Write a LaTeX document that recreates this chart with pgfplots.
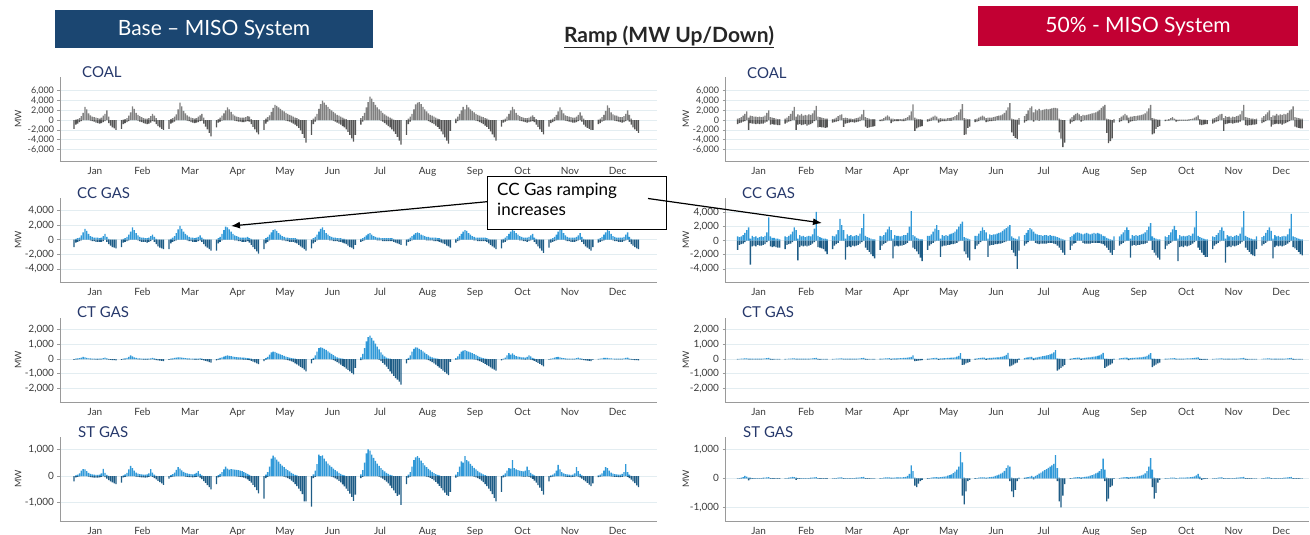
\documentclass[border=0pt]{standalone}
\usepackage{fontspec}
\setmainfont{Lato}
\usepackage{pgfplots}
\pgfplotsset{compat=1.18}
\usepackage{pgfplotstable}
\usetikzlibrary{arrows.meta}

\definecolor{coalup}{HTML}{808080}
\definecolor{coaldn}{HTML}{555555}
\definecolor{gasup}{HTML}{3199D8}
\definecolor{gasdn}{HTML}{1E5C86}
\definecolor{gridc}{HTML}{E3EDF1}
\definecolor{axisc}{HTML}{9A9A9A}
\definecolor{tickc}{HTML}{3A3A3A}
\definecolor{navy}{HTML}{26386B}
\definecolor{basebox}{HTML}{1B4671}
\definecolor{redbox}{HTML}{C20033}

% hourly ramp per month (24 rows per month), u = up, d = down, MW
% Base - COAL
\pgfplotstableread[row sep=\\]{
u d\\
0 -1800\\100 -900\\200 -700\\400 -400\\800 -200\\1500 0\\2700 0\\2200 0\\1400 0\\1000 -100\\700 -200\\600 -300\\500 -500\\400 -600\\300 -700\\500 -600\\900 -400\\1300 -200\\2000 0\\700 -600\\0 -1100\\0 -1500\\0 -1700\\0 -2000\\
0 -1800\\100 -800\\200 -600\\400 -400\\900 -200\\1600 0\\2800 0\\2300 0\\1500 0\\1100 -100\\800 -300\\600 -400\\400 -600\\300 -700\\300 -800\\400 -700\\800 -500\\1300 -200\\900 -300\\400 -800\\0 -1200\\0 -1500\\0 -1800\\0 -2000\\
0 -1800\\200 -700\\400 -500\\700 -300\\1200 0\\2200 0\\3600 0\\2800 0\\1900 0\\1400 0\\1000 -100\\700 -200\\500 -400\\400 -500\\300 -600\\400 -500\\700 -400\\1000 -200\\1300 -100\\500 -700\\0 -1300\\0 -1900\\0 -2600\\0 -3300\\
0 -1500\\200 -500\\500 -300\\900 -100\\1400 0\\2000 0\\2600 0\\2200 0\\1700 0\\1200 0\\900 -100\\700 -200\\600 -300\\500 -300\\500 -400\\500 -400\\600 -300\\800 -200\\700 -300\\200 -800\\0 -1400\\0 -1900\\0 -2500\\0 -2900\\
0 -2000\\300 -700\\600 -300\\1000 0\\1700 0\\2500 0\\3100 0\\2900 0\\2600 0\\2300 0\\2000 0\\1800 0\\1500 -100\\1300 -200\\1100 -300\\900 -500\\700 -700\\500 -900\\400 -1200\\200 -1600\\0 -2100\\0 -2800\\0 -3600\\0 -4600\\
0 -3000\\300 -800\\700 -300\\1300 0\\2300 0\\3300 0\\4000 0\\3600 0\\3100 0\\2700 0\\2300 0\\2000 0\\1700 -100\\1400 -300\\1100 -500\\900 -700\\700 -900\\500 -1200\\300 -1500\\200 -1900\\0 -2400\\0 -3000\\0 -3700\\0 -4400\\
0 -3000\\400 -900\\800 -300\\1500 0\\2600 0\\3700 0\\4800 0\\4400 0\\3700 0\\3100 0\\2600 0\\2200 0\\1900 -100\\1500 -300\\1200 -600\\900 -900\\700 -1200\\500 -1500\\300 -1900\\100 -2300\\0 -2800\\0 -3400\\0 -4200\\0 -5000\\
0 -3000\\300 -800\\700 -300\\1300 0\\2200 0\\3200 0\\3600 0\\3700 0\\3300 0\\2700 0\\2200 0\\1800 0\\1400 -200\\1100 -400\\900 -600\\700 -800\\500 -1100\\300 -1400\\200 -1800\\0 -2300\\0 -2900\\0 -3500\\0 -4200\\0 -4800\\
0 -2200\\300 -600\\700 -200\\1300 0\\2000 0\\2700 0\\2200 0\\3100 0\\2600 0\\2200 0\\1900 0\\1600 0\\1300 -100\\1100 -200\\900 -400\\700 -600\\600 -800\\400 -1100\\300 -1400\\100 -1800\\0 -2300\\0 -2900\\0 -3500\\0 -4200\\
0 -1300\\100 -500\\300 -300\\700 -100\\1300 0\\2000 0\\2700 0\\2200 0\\1500 0\\1100 0\\800 -100\\600 -200\\500 -300\\400 -400\\400 -500\\500 -400\\700 -300\\1000 -200\\600 -400\\200 -900\\0 -1400\\0 -1900\\0 -2400\\0 -2900\\
0 -1300\\100 -600\\300 -400\\600 -200\\1100 0\\1800 0\\2600 0\\2100 0\\1400 0\\1000 -100\\800 -200\\700 -300\\600 -400\\500 -500\\500 -500\\700 -400\\1100 -200\\1600 0\\900 -300\\300 -900\\0 -1300\\0 -1600\\0 -1800\\0 -2000\\
0 -2000\\100 -800\\300 -600\\600 -300\\1100 -100\\1900 0\\3000 0\\2500 0\\1600 0\\1200 0\\1000 -100\\900 -200\\700 -300\\600 -400\\600 -500\\800 -400\\1300 -200\\2000 0\\1100 -300\\300 -900\\0 -1500\\0 -1900\\0 -2200\\0 -2600\\
}\coalA
% 50% - COAL
\pgfplotstableread[row sep=\\]{
u d\\
300 -800\\400 -600\\600 -500\\900 -300\\1300 -200\\1800 0\\500 -2000\\900 -600\\800 -700\\700 -700\\700 -800\\600 -700\\700 -800\\600 -700\\700 -700\\900 -500\\1500 -300\\2000 0\\600 -900\\500 -800\\400 -900\\300 -900\\200 -1000\\200 -1000\\
300 -700\\500 -500\\800 -300\\1300 -200\\1900 0\\2700 0\\700 -2000\\1200 -900\\1000 -800\\1300 -1000\\900 -900\\1100 -800\\1000 -1100\\1200 -900\\1100 -800\\1400 -600\\2000 -200\\2900 0\\700 -1500\\600 -1400\\500 -1500\\400 -1500\\300 -1600\\300 -1500\\
200 -500\\300 -400\\500 -300\\800 -200\\1100 0\\1200 0\\400 -1400\\500 -700\\400 -600\\300 -500\\300 -400\\200 -400\\300 -500\\400 -400\\500 -300\\700 -200\\1200 0\\2100 0\\600 -1300\\400 -1600\\300 -1500\\200 -1400\\200 -1300\\200 -1200\\
100 -200\\200 -200\\400 -100\\700 0\\1000 0\\700 0\\300 -600\\300 -300\\200 -200\\200 -200\\200 -200\\200 -100\\200 -200\\300 -200\\400 -100\\600 0\\1000 0\\1800 0\\3200 0\\500 -2200\\300 -1700\\200 -1500\\200 -1300\\100 -1200\\
200 -300\\300 -200\\500 -100\\700 0\\900 0\\700 0\\300 -500\\400 -300\\300 -200\\300 -200\\300 -200\\400 -100\\400 -100\\500 -100\\600 0\\800 0\\1100 0\\1600 0\\2200 0\\3300 0\\400 -3000\\300 -2900\\200 -1600\\200 -1300\\
200 -400\\300 -300\\500 -200\\700 0\\900 0\\700 0\\400 -400\\500 -300\\500 -200\\500 -200\\600 -100\\700 -100\\800 0\\900 0\\1000 0\\1200 0\\1500 0\\2000 0\\2600 0\\3500 0\\300 -2500\\200 -3200\\100 -3600\\100 -3900\\
400 -900\\800 -500\\1300 -200\\2000 0\\2500 0\\2800 0\\1600 -300\\2200 0\\2000 0\\2300 -100\\2000 0\\2100 0\\2200 0\\2300 0\\2200 0\\2300 0\\2400 0\\2500 0\\2500 0\\2400 0\\300 -2500\\100 -3800\\0 -5500\\0 -4600\\
300 -700\\600 -400\\1000 -200\\1300 0\\1500 0\\1200 0\\800 -300\\1100 -100\\1000 0\\1100 0\\1200 0\\1300 0\\1400 0\\1500 0\\1600 0\\1800 0\\2100 0\\2500 0\\2800 0\\3100 0\\300 -2600\\200 -4700\\100 -4300\\0 -3700\\
200 -500\\400 -400\\700 -200\\1000 0\\1300 0\\1000 0\\500 -600\\700 -300\\700 -200\\800 -100\\800 -100\\900 0\\1000 0\\1100 0\\1200 0\\1400 0\\1800 0\\2400 0\\3100 0\\400 -2900\\300 -2700\\200 -1800\\100 -1400\\100 -1200\\
100 -200\\100 -100\\200 -100\\400 0\\600 0\\300 0\\100 -300\\100 -200\\100 -100\\100 -100\\100 -100\\100 -100\\100 -100\\200 -100\\200 0\\300 0\\500 0\\700 0\\1000 0\\200 -900\\100 -1000\\100 -900\\100 -800\\0 -800\\
300 -700\\400 -500\\600 -300\\900 -200\\1200 0\\1300 0\\400 -2200\\800 -800\\600 -700\\700 -600\\500 -600\\700 -700\\600 -600\\800 -500\\900 -500\\1200 -300\\1900 0\\3100 0\\600 -1000\\500 -1100\\400 -1000\\300 -1000\\300 -900\\200 -900\\
300 -800\\500 -600\\800 -400\\1200 -200\\1600 0\\2000 0\\600 -1300\\1000 -900\\900 -800\\1300 -700\\1000 -800\\1200 -700\\1100 -900\\1300 -700\\1200 -600\\1500 -400\\2000 -200\\2200 0\\2800 0\\600 -1300\\500 -1500\\400 -1600\\300 -1700\\300 -1700\\
}\coalB
% Base - CC GAS
\pgfplotstableread[row sep=\\]{
u d\\
0 -1000\\100 -400\\200 -300\\300 -200\\600 -100\\1000 0\\1500 0\\1200 0\\800 0\\500 -100\\400 -200\\300 -200\\300 -300\\300 -300\\200 -300\\300 -300\\500 -200\\800 0\\400 -300\\100 -600\\0 -800\\0 -1000\\0 -1100\\0 -1200\\
0 -1000\\100 -400\\200 -300\\400 -200\\700 -100\\1100 0\\1700 0\\1300 0\\900 0\\600 -100\\400 -200\\300 -300\\300 -300\\200 -300\\200 -400\\300 -300\\500 -200\\700 0\\400 -300\\100 -600\\0 -900\\0 -1100\\0 -1200\\0 -1300\\
0 -1300\\100 -500\\300 -300\\500 -200\\900 -100\\1400 0\\1900 0\\1500 0\\1100 0\\800 0\\600 -100\\400 -200\\300 -200\\300 -300\\200 -300\\300 -300\\400 -200\\600 -100\\300 -300\\100 -600\\0 -900\\0 -1100\\0 -1300\\0 -1500\\
0 -1500\\200 -500\\400 -300\\800 -100\\1300 0\\1800 0\\1700 0\\1400 0\\1100 0\\800 0\\600 -100\\500 -100\\400 -200\\300 -200\\300 -300\\300 -300\\300 -300\\400 -200\\200 -400\\100 -700\\0 -1000\\0 -1300\\0 -1600\\0 -1900\\
0 -1300\\200 -500\\400 -300\\700 -100\\1000 0\\1300 0\\1400 0\\1200 0\\900 0\\700 0\\500 -100\\400 -100\\300 -200\\300 -200\\200 -300\\200 -300\\200 -300\\200 -400\\100 -500\\0 -700\\0 -900\\0 -1100\\0 -1300\\0 -1500\\
0 -1200\\200 -500\\400 -300\\700 -100\\1100 0\\1500 0\\1700 0\\1300 0\\900 0\\700 0\\500 -100\\400 -100\\300 -200\\300 -200\\200 -200\\200 -300\\200 -300\\100 -400\\100 -500\\0 -600\\0 -800\\0 -1000\\0 -1100\\0 -1300\\
0 -700\\100 -300\\200 -200\\400 -100\\600 0\\800 0\\900 0\\700 0\\500 0\\400 0\\300 -100\\300 -100\\200 -100\\200 -200\\200 -200\\200 -200\\200 -200\\200 -200\\200 -200\\100 -300\\0 -400\\0 -500\\0 -600\\0 -700\\
0 -800\\100 -300\\300 -200\\500 -100\\700 0\\900 0\\1000 0\\900 0\\700 0\\600 0\\500 0\\400 -100\\400 -100\\300 -100\\300 -100\\300 -200\\300 -200\\200 -200\\200 -300\\100 -400\\0 -500\\0 -600\\0 -800\\0 -900\\
0 -1100\\100 -400\\300 -200\\500 -100\\800 0\\1100 0\\1300 0\\1200 0\\900 0\\700 0\\500 0\\400 -100\\300 -100\\300 -200\\300 -200\\300 -200\\300 -200\\300 -200\\200 -300\\100 -500\\0 -700\\0 -900\\0 -1100\\0 -1300\\
0 -1200\\100 -400\\300 -300\\500 -100\\800 0\\1100 0\\1500 0\\1200 0\\900 0\\700 0\\500 -100\\400 -100\\300 -200\\300 -200\\300 -300\\400 -200\\600 -100\\800 0\\300 -300\\100 -600\\0 -900\\0 -1200\\0 -1500\\0 -1800\\
0 -1100\\100 -400\\200 -300\\400 -200\\700 -100\\1100 0\\1600 0\\1300 0\\900 0\\600 -100\\400 -200\\300 -200\\300 -300\\300 -300\\300 -300\\400 -200\\600 -100\\900 0\\400 -300\\100 -600\\0 -900\\0 -1100\\0 -1300\\0 -1500\\
0 -1000\\100 -400\\200 -300\\400 -200\\700 -100\\1000 0\\1500 0\\1200 0\\800 0\\500 -100\\400 -200\\300 -200\\300 -300\\300 -300\\300 -300\\400 -200\\700 -100\\1000 0\\400 -300\\100 -600\\0 -800\\0 -1000\\0 -1200\\0 -1300\\
}\ccA
% 50% - CC GAS
\pgfplotstableread[row sep=\\]{
u d\\
600 -1300\\500 -600\\600 -500\\800 -400\\1100 -200\\1500 0\\1900 0\\300 -3400\\700 -800\\500 -700\\600 -800\\400 -600\\500 -700\\600 -700\\500 -600\\700 -500\\1200 -200\\3300 0\\600 -800\\400 -900\\400 -800\\300 -900\\300 -1000\\200 -1000\\
600 -1200\\500 -600\\700 -500\\900 -400\\1300 -200\\1900 0\\1500 0\\300 -2800\\800 -900\\600 -700\\700 -800\\500 -700\\600 -800\\700 -700\\600 -600\\900 -400\\1700 -200\\4100 0\\700 -900\\500 -1000\\400 -1100\\300 -1200\\300 -1500\\200 -1900\\
700 -1200\\600 -700\\900 -500\\1500 -300\\3100 0\\2200 0\\1500 0\\300 -2700\\900 -900\\700 -800\\800 -900\\600 -700\\700 -800\\800 -700\\700 -600\\1000 -400\\1800 -200\\3800 0\\700 -1000\\500 -1300\\400 -1600\\300 -1900\\200 -2200\\200 -2500\\
700 -1300\\600 -700\\800 -500\\1200 -300\\1600 -100\\2000 0\\1500 0\\300 -2500\\800 -800\\700 -700\\700 -800\\600 -700\\700 -700\\800 -600\\800 -500\\1100 -300\\2000 0\\4200 0\\800 -1000\\600 -1200\\400 -1500\\300 -1900\\200 -2400\\200 -2900\\
700 -1300\\700 -700\\900 -500\\1300 -300\\1700 -100\\2200 0\\1500 0\\300 -2300\\800 -800\\700 -700\\800 -700\\700 -600\\900 -600\\1000 -500\\1100 -500\\1300 -400\\1600 -300\\2000 -100\\2400 0\\2700 0\\500 -1500\\400 -1900\\300 -2400\\200 -2800\\
700 -1200\\700 -700\\1000 -500\\1400 -200\\1900 0\\1500 0\\1200 0\\300 -2300\\900 -700\\800 -600\\900 -600\\900 -500\\1000 -500\\1100 -400\\1200 -400\\1400 -300\\1600 -200\\1800 -100\\2000 0\\2200 0\\600 -1300\\400 -1700\\300 -2200\\200 -4000\\
600 -1400\\800 -700\\1100 -400\\1500 -200\\1800 0\\1600 0\\1300 0\\1000 -300\\900 -400\\800 -500\\800 -400\\700 -400\\800 -400\\800 -400\\700 -300\\800 -300\\700 -300\\700 -400\\600 -500\\500 -700\\400 -1000\\300 -1300\\200 -1700\\100 -2000\\
500 -1300\\700 -700\\900 -400\\1100 -300\\1200 0\\1100 0\\1000 0\\900 -300\\1000 -400\\1100 -400\\1000 -400\\900 -400\\1000 -300\\1100 -300\\1000 -300\\1100 -300\\1000 -300\\900 -400\\700 -500\\600 -700\\400 -1000\\300 -1300\\200 -1700\\100 -2000\\
600 -1300\\600 -700\\900 -500\\1200 -300\\1500 -100\\1900 0\\1500 0\\300 -2400\\800 -700\\700 -600\\800 -700\\700 -600\\800 -600\\900 -500\\1000 -500\\1200 -400\\1500 -300\\2000 0\\2500 0\\600 -1300\\400 -1700\\300 -2100\\200 -2400\\200 -2700\\
600 -1200\\500 -700\\800 -500\\1200 -300\\1600 -100\\2100 0\\1500 0\\300 -2900\\800 -900\\600 -800\\700 -900\\600 -700\\700 -800\\800 -700\\700 -600\\1000 -400\\1900 -200\\4200 0\\700 -1000\\500 -1300\\400 -1700\\300 -2000\\200 -2300\\200 -2300\\
600 -1200\\500 -700\\800 -500\\1100 -300\\1500 -100\\1900 0\\1400 0\\300 -3100\\800 -900\\600 -800\\700 -900\\500 -700\\700 -800\\800 -700\\700 -600\\1000 -400\\1900 -200\\4200 0\\700 -1000\\500 -1300\\400 -1600\\300 -1900\\200 -2100\\200 -2200\\
600 -1200\\500 -700\\700 -500\\1100 -300\\1500 -100\\1900 0\\1400 0\\300 -2500\\800 -900\\600 -700\\700 -800\\500 -700\\600 -800\\700 -700\\600 -600\\900 -400\\1700 -200\\3800 0\\600 -900\\500 -1100\\400 -1300\\300 -1600\\200 -1900\\200 -2100\\
}\ccB
% Base - CT GAS
\pgfplotstableread[row sep=\\]{
u d\\
0 -60\\20 -30\\40 -20\\60 -10\\100 0\\150 0\\120 0\\80 0\\50 -10\\40 -20\\30 -30\\20 -30\\20 -40\\20 -40\\20 -30\\30 -20\\60 -10\\90 0\\40 -30\\10 -50\\0 -60\\0 -70\\0 -80\\0 -90\\
0 -60\\20 -30\\40 -20\\80 -10\\150 0\\250 0\\180 0\\110 0\\70 -10\\50 -20\\40 -30\\30 -30\\30 -40\\20 -40\\20 -40\\30 -30\\50 -20\\80 0\\40 -40\\10 -70\\0 -90\\0 -110\\0 -130\\0 -150\\
0 -60\\20 -30\\40 -20\\70 -10\\100 0\\120 0\\110 0\\90 0\\70 0\\60 -10\\50 -20\\40 -20\\30 -30\\30 -30\\20 -40\\20 -40\\30 -40\\40 -30\\20 -60\\0 -90\\0 -120\\0 -160\\0 -210\\0 -250\\
0 -100\\30 -40\\70 -20\\120 0\\170 0\\220 0\\250 0\\220 0\\190 0\\170 0\\150 -10\\130 -20\\120 -20\\110 -30\\100 -30\\90 -40\\80 -50\\60 -60\\40 -80\\20 -120\\0 -170\\0 -230\\0 -300\\0 -350\\
0 -150\\60 -40\\150 -10\\300 0\\450 0\\500 0\\480 0\\420 0\\370 0\\320 0\\270 0\\220 -20\\170 -40\\130 -70\\90 -110\\60 -160\\40 -220\\20 -290\\0 -370\\0 -450\\0 -540\\0 -630\\0 -730\\0 -850\\
0 -300\\80 -60\\250 -10\\500 0\\750 0\\800 0\\760 0\\700 0\\620 0\\530 0\\440 0\\350 -30\\260 -80\\180 -140\\120 -210\\70 -290\\40 -380\\20 -470\\0 -560\\0 -650\\0 -750\\0 -850\\0 -950\\0 -1050\\
0 -600\\120 -80\\350 -20\\750 0\\1200 0\\1500 0\\1600 0\\1450 0\\1250 0\\1050 0\\850 0\\650 -50\\450 -150\\300 -260\\180 -380\\100 -520\\50 -680\\20 -850\\0 -1000\\0 -1150\\0 -1300\\0 -1400\\0 -1550\\0 -1750\\
0 -300\\80 -60\\250 -20\\500 0\\700 0\\800 0\\780 0\\700 0\\620 0\\530 0\\430 0\\330 -30\\240 -80\\170 -140\\110 -210\\70 -290\\40 -380\\20 -480\\0 -580\\0 -680\\0 -790\\0 -900\\0 -1000\\0 -1100\\
0 -200\\60 -50\\180 -20\\350 0\\500 0\\580 0\\600 0\\560 0\\500 0\\450 0\\400 0\\340 -20\\280 -50\\210 -90\\150 -140\\100 -200\\60 -270\\30 -340\\10 -410\\0 -490\\0 -570\\0 -650\\0 -730\\0 -800\\
0 -100\\30 -30\\100 -10\\250 0\\400 0\\300 0\\380 0\\280 0\\200 0\\170 0\\140 -10\\120 -20\\110 -30\\100 -40\\150 -30\\250 -20\\180 -40\\80 -80\\20 -130\\0 -190\\0 -260\\0 -330\\0 -420\\0 -500\\
0 -50\\20 -20\\50 -10\\90 0\\130 0\\150 0\\120 0\\80 0\\60 -10\\40 -20\\30 -20\\30 -30\\20 -30\\20 -30\\30 -20\\60 -10\\100 0\\50 -30\\20 -50\\0 -70\\0 -90\\0 -110\\0 -130\\0 -150\\
0 -40\\10 -20\\30 -10\\50 0\\70 0\\80 0\\70 0\\50 0\\40 -10\\30 -10\\20 -20\\20 -20\\20 -20\\20 -20\\30 -20\\50 -10\\80 0\\100 0\\30 -30\\10 -50\\0 -60\\0 -70\\0 -80\\0 -90\\
}\ctA
% 50% - CT GAS
\pgfplotstableread[row sep=\\]{
u d\\
10 -20\\10 -10\\20 -10\\30 0\\40 0\\50 0\\20 -30\\20 -20\\20 -20\\20 -20\\20 -20\\20 -20\\20 -20\\20 -20\\30 -10\\40 0\\60 0\\70 0\\20 -40\\10 -40\\10 -30\\10 -30\\10 -30\\10 -30\\
10 -20\\10 -10\\20 -10\\30 0\\40 0\\50 0\\20 -30\\20 -20\\20 -20\\20 -20\\20 -20\\20 -20\\20 -20\\30 -20\\30 -10\\40 0\\60 0\\80 0\\20 -40\\10 -40\\10 -30\\10 -30\\10 -30\\10 -30\\
10 -20\\10 -10\\20 -10\\30 0\\40 0\\50 0\\20 -30\\20 -20\\20 -20\\20 -20\\20 -20\\20 -20\\20 -20\\20 -20\\30 -10\\40 0\\60 0\\70 0\\20 -40\\10 -40\\10 -30\\10 -30\\10 -30\\10 -30\\
20 -30\\20 -20\\30 -10\\40 0\\50 0\\60 0\\30 -40\\40 -20\\40 -20\\50 -20\\50 -10\\60 -10\\60 -10\\70 0\\80 0\\90 0\\110 0\\150 0\\250 0\\20 -150\\10 -130\\10 -110\\10 -90\\10 -70\\
20 -40\\30 -20\\40 -10\\60 0\\80 0\\70 0\\30 -60\\50 -30\\50 -20\\60 -20\\60 -10\\70 -10\\80 0\\90 0\\100 0\\120 0\\160 0\\220 0\\400 0\\20 -400\\10 -380\\10 -300\\10 -250\\10 -200\\
30 -50\\40 -30\\60 -10\\80 0\\100 0\\90 0\\40 -60\\60 -30\\70 -20\\80 -20\\90 -10\\100 -10\\110 0\\120 0\\140 0\\170 0\\210 0\\280 0\\420 0\\30 -500\\20 -450\\10 -380\\10 -300\\10 -250\\
40 -60\\60 -30\\90 -10\\120 0\\150 0\\140 0\\60 -80\\100 -30\\120 -20\\150 -10\\170 0\\190 0\\210 0\\240 0\\270 0\\310 0\\360 0\\450 0\\600 0\\40 -800\\30 -700\\20 -600\\10 -500\\10 -400\\
30 -50\\40 -30\\60 -10\\80 0\\100 0\\90 0\\40 -60\\60 -30\\80 -20\\100 -10\\110 0\\120 0\\140 0\\160 0\\180 0\\210 0\\250 0\\320 0\\420 0\\30 -600\\20 -520\\10 -450\\10 -380\\10 -300\\
30 -50\\40 -30\\60 -10\\80 0\\100 0\\90 0\\40 -80\\60 -30\\70 -20\\80 -10\\90 0\\100 0\\110 0\\120 0\\140 0\\170 0\\220 0\\300 0\\400 0\\30 -550\\20 -450\\10 -380\\10 -300\\10 -250\\
20 -30\\20 -20\\30 -10\\40 0\\50 0\\60 0\\30 -30\\30 -20\\30 -20\\30 -20\\30 -20\\30 -10\\40 -10\\40 0\\50 0\\60 0\\80 0\\100 0\\120 0\\20 -60\\10 -60\\10 -50\\10 -40\\10 -40\\
10 -20\\10 -10\\20 -10\\30 0\\40 0\\50 0\\20 -30\\20 -20\\20 -20\\20 -20\\20 -20\\20 -20\\20 -20\\20 -20\\30 -10\\40 0\\60 0\\70 0\\20 -40\\10 -40\\10 -30\\10 -30\\10 -30\\10 -30\\
10 -20\\10 -10\\20 -10\\30 0\\40 0\\50 0\\20 -30\\20 -20\\20 -20\\20 -20\\20 -20\\20 -20\\20 -20\\20 -20\\30 -10\\40 0\\60 0\\70 0\\20 -40\\10 -40\\10 -30\\10 -30\\10 -30\\10 -30\\
}\ctB
% Base - ST GAS
\pgfplotstableread[row sep=\\]{
u d\\
0 -200\\20 -50\\50 -30\\100 -10\\200 0\\260 0\\250 0\\180 0\\120 -20\\80 -40\\60 -50\\50 -60\\40 -60\\40 -60\\50 -50\\100 -30\\270 0\\120 -40\\40 -100\\10 -150\\0 -200\\0 -240\\0 -280\\0 -300\\
0 -250\\20 -50\\60 -30\\120 -10\\250 0\\380 0\\300 0\\200 0\\130 -20\\90 -30\\70 -40\\60 -50\\50 -50\\50 -60\\60 -50\\100 -30\\260 0\\130 -30\\50 -80\\10 -130\\0 -180\\0 -230\\0 -280\\0 -330\\
0 -100\\30 -40\\70 -20\\130 -10\\230 0\\330 0\\280 0\\210 0\\160 0\\120 -20\\100 -30\\80 -40\\70 -40\\60 -50\\80 -40\\120 -30\\180 -10\\80 -60\\20 -120\\0 -190\\0 -260\\0 -340\\0 -420\\0 -500\\
0 -300\\30 -50\\80 -20\\150 0\\250 0\\350 0\\280 0\\240 0\\260 0\\250 0\\240 0\\230 -10\\220 -20\\200 -30\\180 -40\\150 -60\\120 -90\\80 -130\\40 -180\\10 -250\\0 -330\\0 -420\\0 -530\\0 -650\\
0 -850\\50 -80\\150 -30\\350 0\\650 0\\770 0\\700 0\\620 0\\540 0\\460 0\\390 0\\330 -20\\270 -50\\220 -80\\170 -120\\120 -170\\80 -230\\40 -300\\20 -380\\0 -470\\0 -570\\0 -680\\0 -950\\0 -950\\
0 -1150\\60 -80\\200 -30\\450 0\\800 0\\750 0\\780 0\\650 0\\550 0\\470 0\\400 0\\340 -20\\280 -50\\220 -90\\170 -130\\120 -180\\80 -240\\40 -310\\20 -390\\0 -470\\0 -560\\0 -660\\0 -780\\0 -930\\
0 -700\\60 -80\\220 -30\\500 0\\850 0\\1000 0\\950 0\\800 0\\680 0\\570 0\\470 0\\380 -20\\300 -60\\230 -100\\170 -150\\120 -210\\80 -280\\40 -360\\20 -450\\0 -540\\0 -640\\0 -750\\0 -700\\0 -1080\\
0 -300\\50 -60\\150 -20\\350 0\\600 0\\700 0\\750 0\\680 0\\580 0\\480 0\\400 0\\330 -20\\270 -40\\210 -70\\160 -110\\110 -160\\70 -220\\40 -290\\20 -370\\0 -450\\0 -540\\0 -620\\0 -720\\0 -750\\
0 -600\\50 -60\\150 -20\\350 0\\550 0\\500 0\\750 0\\600 0\\550 0\\460 0\\380 0\\310 -20\\250 -50\\190 -80\\140 -120\\100 -170\\60 -230\\30 -300\\10 -380\\0 -470\\0 -570\\0 -680\\0 -820\\0 -950\\
0 -600\\40 -50\\100 -20\\200 0\\300 0\\280 0\\600 0\\300 0\\250 0\\220 0\\200 0\\180 -10\\170 -20\\200 -20\\350 -10\\220 -30\\120 -60\\60 -110\\20 -170\\0 -250\\0 -340\\0 -440\\0 -560\\0 -700\\
0 -200\\20 -40\\50 -20\\100 -10\\200 0\\420 0\\250 0\\150 0\\100 -10\\70 -20\\60 -30\\50 -30\\40 -40\\50 -30\\100 -20\\330 0\\180 -20\\80 -50\\20 -100\\0 -150\\0 -200\\0 -260\\0 -320\\0 -380\\
0 -280\\20 -40\\50 -20\\100 -10\\200 0\\330 0\\300 0\\200 0\\130 -10\\90 -20\\70 -30\\60 -30\\50 -40\\50 -40\\80 -30\\150 -10\\450 0\\150 -30\\50 -80\\10 -140\\0 -200\\0 -270\\0 -350\\0 -420\\
}\stA
% 50% - ST GAS
\pgfplotstableread[row sep=\\]{
u d\\
0 -10\\10 -10\\20 -10\\40 0\\80 0\\60 0\\20 -70\\20 -30\\10 -20\\10 -20\\10 -10\\10 -10\\10 -10\\10 -10\\20 -10\\20 0\\30 0\\40 0\\10 -20\\10 -20\\0 -20\\0 -20\\0 -20\\0 -20\\
0 -10\\10 -10\\20 -10\\30 0\\50 0\\40 0\\20 -50\\10 -20\\10 -20\\10 -10\\10 -10\\10 -10\\10 -10\\10 -10\\20 -10\\20 0\\30 0\\40 0\\10 -20\\10 -20\\0 -20\\0 -20\\0 -20\\0 -20\\
0 -10\\10 -10\\10 -10\\20 0\\30 0\\30 0\\10 -20\\10 -10\\10 -10\\10 -10\\10 -10\\10 -10\\10 -10\\20 -10\\20 0\\30 0\\40 0\\50 0\\10 -20\\10 -20\\0 -20\\0 -20\\0 -10\\0 -10\\
10 -10\\10 -10\\20 0\\30 0\\30 0\\30 0\\20 -10\\20 -10\\20 0\\30 0\\30 0\\30 0\\30 0\\40 0\\50 0\\80 0\\150 0\\450 0\\250 0\\20 -250\\10 -300\\10 -180\\0 -100\\0 -50\\
10 -20\\10 -10\\20 0\\30 0\\40 0\\40 0\\30 -10\\40 0\\50 0\\60 0\\70 0\\90 0\\110 0\\140 0\\180 0\\230 0\\300 0\\400 0\\900 0\\550 -600\\20 -900\\10 -450\\0 -100\\0 -50\\
10 -20\\10 -10\\20 0\\30 0\\30 0\\30 0\\20 -10\\30 0\\40 0\\50 0\\60 0\\80 0\\100 0\\130 0\\160 0\\200 0\\260 0\\350 0\\450 0\\400 -100\\20 -450\\10 -650\\0 -400\\0 -100\\
20 -30\\20 -20\\30 -10\\40 0\\60 0\\80 0\\50 -40\\80 0\\120 0\\160 0\\200 0\\240 0\\280 0\\320 0\\360 0\\400 0\\450 0\\500 0\\800 0\\350 -100\\20 -800\\10 -1000\\0 -600\\0 -200\\
10 -20\\10 -10\\20 0\\30 0\\40 0\\40 0\\30 -20\\40 0\\50 0\\60 0\\70 0\\90 0\\110 0\\140 0\\170 0\\200 0\\250 0\\320 0\\680 0\\300 -100\\20 -800\\10 -700\\0 -300\\0 -250\\
10 -20\\10 -10\\20 0\\30 0\\40 0\\40 0\\30 -20\\40 0\\50 0\\50 0\\60 0\\70 0\\80 0\\100 0\\130 0\\170 0\\250 0\\400 0\\700 0\\300 -300\\20 -700\\10 -500\\0 -150\\0 -50\\
10 -10\\10 -10\\10 0\\20 0\\20 0\\20 0\\10 -10\\10 0\\20 0\\20 0\\20 0\\20 0\\30 0\\30 0\\40 0\\50 0\\70 0\\100 0\\150 0\\60 -30\\10 -50\\10 -30\\0 -20\\0 -20\\
0 -10\\10 -10\\10 -10\\20 0\\30 0\\30 0\\10 -20\\10 -10\\10 -10\\10 -10\\10 -10\\10 -10\\10 -10\\20 -10\\20 0\\30 0\\40 0\\50 0\\10 -20\\10 -20\\0 -20\\0 -20\\0 -10\\0 -10\\
0 -10\\10 -10\\10 -10\\20 0\\30 0\\30 0\\10 -20\\10 -10\\10 -10\\10 -10\\10 -10\\10 -10\\10 -10\\20 -10\\20 0\\30 0\\40 0\\50 0\\10 -20\\10 -20\\0 -20\\0 -20\\0 -10\\0 -10\\
}\stB

\pgfplotsset{
  ramp/.style={
    scale only axis, height=84pt, anchor=south west,
    axis x line*=bottom, axis y line*=left,
    axis line style={-, draw=axisc, line width=0.9pt},
    ymajorgrids, grid style={draw=gridc, line width=0.8pt},
    xtick={11.5,37.5,63.5,89.5,115.5,141.5,167.5,193.5,219.5,245.5,271.5,297.5},
    xticklabels={Jan,Feb,Mar,Apr,May,Jun,Jul,Aug,Sep,Oct,Nov,Dec},
    x tick style={draw=none},
    y tick style={draw=axisc, line width=0.6pt},
    tick align=outside, major tick length=2.5pt,
    tick label style={font=\fontsize{10}{12}\selectfont, text=tickc},
    scaled y ticks=false,
    /pgf/number format/1000 sep={,},
    /pgf/number format/assume math mode=true,
    ylabel={MW},
    ylabel style={font=\fontsize{9}{10}\selectfont, text=tickc, anchor=center},
  },
  leftcol/.style={width=597pt, xmin=-7.67, xmax=319.1,
    ylabel style={at={(axis description cs:-0.070,0.5)}}},
  rightcol/.style={width=584pt, xmin=-6.9, xmax=312.7,
    ylabel style={at={(axis description cs:-0.067,0.5)}}},
}

\newcommand{\rampbars}[3]{%
  \addplot[ybar, bar width=1.35pt, bar shift=0pt, fill=#2, draw=none]
    table[x expr={\coordindex+2*floor(\coordindex/24)}, y=u]{#1};
  \addplot[ybar, bar width=1.35pt, bar shift=0pt, fill=#3, draw=none]
    table[x expr={\coordindex+2*floor(\coordindex/24)}, y=d]{#1};
}

\begin{document}
\begin{tikzpicture}
\useasboundingbox (0,0) rectangle (1310pt,-535pt);

% headers
\fill[basebox] (55pt,-10pt) rectangle (373pt,-48pt);
\node[text=white, font=\fontsize{21}{24}\selectfont] at (214pt,-30pt) {Base – MISO System};
\fill[redbox] (978pt,-6pt) rectangle (1298pt,-46pt);
\node[text=white, font=\fontsize{21}{24}\selectfont] at (1138pt,-26.5pt) {50\% - MISO System};
\node[font=\bfseries\fontsize{21}{24}\selectfont, text=black!85] at (669pt,-37pt) {\underline{Ramp (MW Up/Down)}};

% left column (Base)
\begin{axis}[ramp, leftcol, at={(60pt,-161pt)}, ymin=-8350, ymax=8820,
  ytick={-6000,-4000,...,6000}, yticklabel style={font=\fontsize{9}{10}\selectfont}]
  \rampbars{\coalA}{coalup}{coaldn}
\end{axis}
\begin{axis}[ramp, leftcol, at={(60pt,-282pt)}, ymin=-5795, ymax=5713,
  ytick={-4000,-2000,...,4000}]
  \rampbars{\ccA}{gasup}{gasdn}
\end{axis}
\begin{axis}[ramp, leftcol, at={(60pt,-402pt)}, ymin=-2935, ymax=2800,
  ytick={-2000,-1000,...,2000}]
  \rampbars{\ctA}{gasup}{gasdn}
\end{axis}
\begin{axis}[ramp, leftcol, at={(60pt,-521pt)}, ymin=-1690, ymax=1466,
  ytick={-1000,0,1000}]
  \rampbars{\stA}{gasup}{gasdn}
\end{axis}

% right column (50%)
\begin{axis}[ramp, rightcol, at={(725pt,-161pt)}, ymin=-8350, ymax=8820,
  ytick={-6000,-4000,...,6000}, yticklabel style={font=\fontsize{9}{10}\selectfont}]
  \rampbars{\coalB}{coalup}{coaldn}
\end{axis}
\begin{axis}[ramp, rightcol, at={(725pt,-282pt)}, ymin=-5869, ymax=6068,
  ytick={-4000,-2000,...,4000}]
  \rampbars{\ccB}{gasup}{gasdn}
\end{axis}
\begin{axis}[ramp, rightcol, at={(725pt,-402pt)}, ymin=-2935, ymax=2800,
  ytick={-2000,-1000,...,2000}]
  \rampbars{\ctB}{gasup}{gasdn}
\end{axis}
\begin{axis}[ramp, rightcol, at={(725pt,-521pt)}, ymin=-1473, ymax=1425,
  ytick={-1000,0,1000}]
  \rampbars{\stB}{gasup}{gasdn}
\end{axis}

% panel titles
\begin{scope}[every node/.style={anchor=west, text=navy, font=\fontsize{15}{18}\selectfont, inner sep=0pt}]
\node at (82pt,-72.5pt) {COAL};
\node at (77pt,-192.7pt) {CC GAS};
\node at (77pt,-311.7pt) {CT GAS};
\node at (78pt,-431.7pt) {ST GAS};
\node at (747pt,-72.7pt) {COAL};
\node at (742pt,-192.7pt) {CC GAS};
\node at (742pt,-311.7pt) {CT GAS};
\node at (743pt,-431.7pt) {ST GAS};
\end{scope}

% annotation
\draw[line width=1pt, fill=white] (487pt,-176pt) rectangle (666pt,-229pt);
\node[anchor=north west, align=left, font=\fontsize{17}{20}\selectfont, inner sep=0pt] at (497pt,-183pt) {CC Gas ramping\\increases};
\draw[line width=1.2pt, -{Latex[length=9pt,width=7pt]}] (487pt,-201.7pt) -- (231pt,-226pt);
\draw[line width=1.2pt, -{Latex[length=9pt,width=7pt]}] (648pt,-198.5pt) -- (822pt,-223pt);
\end{tikzpicture}
\end{document}
